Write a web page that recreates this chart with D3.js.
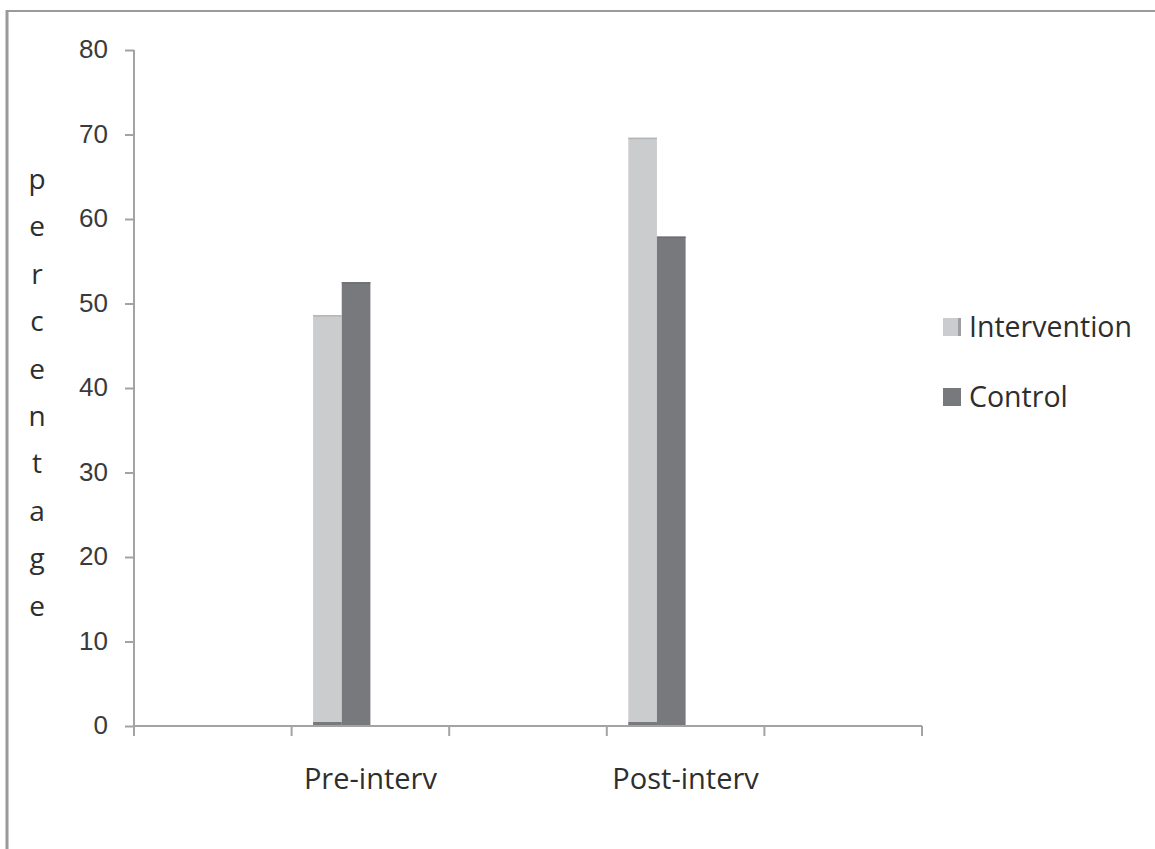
<!DOCTYPE html>
<html>
<head>
<meta charset="utf-8">
<script src="https://cdn.jsdelivr.net/npm/d3@7"></script>
<style>
  html, body { margin: 0; padding: 0; background: #fff; }
  svg { display: block; font-family: "Open Sans", "DejaVu Sans", sans-serif; }
</style>
</head>
<body>
<svg id="chart" width="1155" height="849"></svg>
<script>
// Category axis: five slots, two of them labelled
const categories = ["", "Pre-interv", "", "Post-interv", ""];
// Series (percentage); null where a slot has no data
const seriesNames = ["Intervention", "Control"];
const intervention = [null, 48.6, null, 69.6, null];
const control = [null, 52.5, null, 57.9, null];
const yTicks = [0, 10, 20, 30, 40, 50, 60, 70, 80];
const yTitle = "percentage";
const colors = { Intervention: "#cbccce", Control: "#78797d" };

const svg = d3.select("#chart");
const W = 1155, H = 849;
const plot = { left: 134, right: 922, top: 50, bottom: 726 };

// outer frame (top and left edges)
svg.append("line").attr("x1", 6).attr("x2", W).attr("y1", 11).attr("y2", 11)
  .attr("stroke", "#9a9a9a").attr("stroke-width", 2);
svg.append("line").attr("x1", 7).attr("x2", 7).attr("y1", 10).attr("y2", H)
  .attr("stroke", "#9a9a9a").attr("stroke-width", 3);

const x = d3.scaleBand().domain(d3.range(categories.length))
  .range([plot.left, plot.right]).padding(0);
const y = d3.scaleLinear().domain([0, 80]).range([plot.bottom, plot.top]);
// four bar slots per category (gap width 150%), first two used
const slot = d3.scaleBand().domain([0, 1, 2, 3]).range([0, x.bandwidth()])
  .paddingInner(0).paddingOuter(0.75);

const axisColor = "#a3a3a3";
const textColor = "#2e2e2e";

// y axis
const yAxis = svg.append("g").attr("transform", `translate(${plot.left},0)`)
  .call(d3.axisLeft(y).tickValues(yTicks).tickSize(9).tickPadding(17));
yAxis.select(".domain").attr("stroke", axisColor).attr("stroke-width", 2)
  .attr("d", `M0,${plot.top}V${plot.bottom}`);
yAxis.selectAll(".tick line").attr("stroke", axisColor).attr("stroke-width", 2);
yAxis.selectAll(".tick text").attr("fill", "#3a3a3a")
  .style("font-size", "26px").attr("dy", "0.3em");

// bars
const data = [];
categories.forEach((c, i) => {
  if (intervention[i] != null) data.push({ i, s: 0, name: "Intervention", v: intervention[i] });
  if (control[i] != null) data.push({ i, s: 1, name: "Control", v: control[i] });
});
const bars = svg.append("g");
bars.selectAll("rect.bar").data(data).join("rect")
  .attr("class", "bar")
  .attr("x", d => x(d.i) + slot(d.s))
  .attr("width", slot.bandwidth())
  .attr("y", d => y(d.v))
  .attr("height", d => y(0) - y(d.v))
  .attr("fill", d => colors[d.name]);
// slightly darker top edge on each bar
bars.selectAll("line.cap").data(data).join("line")
  .attr("class", "cap")
  .attr("x1", d => x(d.i) + slot(d.s))
  .attr("x2", d => x(d.i) + slot(d.s) + slot.bandwidth())
  .attr("y1", d => y(d.v) + 0.5).attr("y2", d => y(d.v) + 0.5)
  .attr("stroke", d => d.s === 0 ? "#b3b4b6" : "#6b6c70").attr("stroke-width", 1.5);
// dark base strip under the light bars
bars.selectAll("line.base").data(data.filter(d => d.s === 0)).join("line")
  .attr("class", "base")
  .attr("x1", d => x(d.i) + slot(d.s))
  .attr("x2", d => x(d.i) + slot(d.s) + slot.bandwidth())
  .attr("y1", y(0) - 2.5).attr("y2", y(0) - 2.5)
  .attr("stroke", colors.Control).attr("stroke-width", 3);

// x axis: ticks at every category boundary
const xg = svg.append("g");
xg.append("line").attr("x1", plot.left).attr("x2", plot.right)
  .attr("y1", plot.bottom).attr("y2", plot.bottom)
  .attr("stroke", axisColor).attr("stroke-width", 2);
const bounds = categories.map((c, i) => x(i)).concat([plot.right]);
xg.selectAll("line.tk").data(bounds).join("line").attr("class", "tk")
  .attr("x1", d => d).attr("x2", d => d)
  .attr("y1", plot.bottom).attr("y2", plot.bottom + 10)
  .attr("stroke", axisColor).attr("stroke-width", 2);
xg.selectAll("text").data(categories.map((c, i) => ({ c, i })).filter(d => d.c))
  .join("text")
  .attr("x", d => x(d.i) + x.bandwidth() / 2)
  .attr("y", 789)
  .attr("text-anchor", "middle")
  .attr("fill", textColor)
  .style("font-size", "29px")
  .text(d => d.c);

// vertical stacked y-axis title
svg.append("g").selectAll("text").data(yTitle.split("")).join("text")
  .attr("x", 37)
  .attr("y", (d, i) => 189 + i * 47.4)
  .attr("text-anchor", "middle")
  .attr("fill", textColor)
  .style("font-size", "28px")
  .text(d => d);

// legend
const legend = svg.append("g");
seriesNames.forEach((name, k) => {
  const cy = 327 + k * 70;
  legend.append("rect").attr("x", 943).attr("y", cy - 9).attr("width", 18).attr("height", 18)
    .attr("fill", colors[name]);
  if (k === 0) {
    legend.append("rect").attr("x", 958).attr("y", cy - 9).attr("width", 3).attr("height", 18)
      .attr("fill", "#9d9ea1");
  }
  legend.append("text").attr("x", 969).attr("y", cy + 10)
    .attr("fill", textColor).style("font-size", "28.5px").text(name);
});
</script>
</body>
</html>
